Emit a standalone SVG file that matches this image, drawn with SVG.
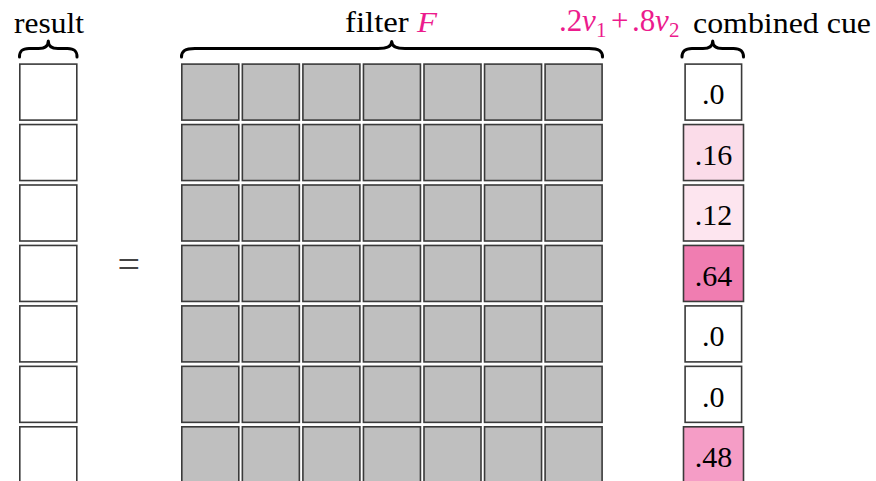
<svg xmlns="http://www.w3.org/2000/svg" width="876" height="481" viewBox="0 0 876 481">
<style>
.cell{stroke:#3a3a3a;stroke-width:1.6}
.w{fill:#ffffff}
.g{fill:#bfbfbf}
.lbl{font-size:29px;fill:#000}
.num{font-size:30px;fill:#000;text-anchor:middle}
.mag{fill:#ec1b8d}
.brace{fill:none;stroke:#000;stroke-width:3;stroke-linecap:round;stroke-linejoin:round}
</style>
<rect width="876" height="481" fill="#fff"/>

<g id="labels" font-family="Liberation Serif, Times New Roman, Times, serif">
<text class="lbl" x="14" y="32.5" textLength="70" lengthAdjust="spacingAndGlyphs">result</text>
<text class="lbl" x="345" y="32" textLength="92" lengthAdjust="spacingAndGlyphs">filter <tspan class="mag" font-style="italic">F</tspan></text>
<text class="mag" y="31" font-size="31"><tspan x="559">.2</tspan><tspan x="582" font-style="italic">v</tspan><tspan x="596" font-size="21" dy="6">1</tspan><tspan x="611" dy="-6">+</tspan><tspan x="632">.8</tspan><tspan x="655" font-style="italic">v</tspan><tspan x="669" font-size="21" dy="6">2</tspan></text>
<text class="lbl" x="693" y="32.5" textLength="178" lengthAdjust="spacingAndGlyphs">combined cue</text>
<text x="128.7" y="278" font-size="40" text-anchor="middle" fill="#444">=</text>
</g>

<g id="braces">
<path class="brace" d="M19.5,57 C19.5,51 22,48.5 29,48.5 L38.5,48.5 C45,48.5 48.3,46 48.3,41 C48.3,46 51.5,48.5 58,48.5 L67.5,48.5 C74.5,48.5 77,51 77,57"/>
<path class="brace" d="M181.5,57 C181.5,51 185,48.5 195,48.5 L378,48.5 C387,48.5 391.7,46 391.7,41.5 C391.7,46 396.5,48.5 405,48.5 L589,48.5 C599,48.5 602.5,51 602.5,57"/>
<path class="brace" d="M682,57 C682,51 685,48.5 692,48.5 L703,48.5 C709.5,48.5 712.7,46 712.7,41 C712.7,46 716,48.5 722.5,48.5 L733.5,48.5 C740.5,48.5 743.5,51 743.5,57"/>
</g>

<g id="result">
<rect class="cell w" x="19.8" y="64.1" width="57" height="56"/>
<rect class="cell w" x="19.8" y="124.55" width="57" height="56"/>
<rect class="cell w" x="19.8" y="185" width="57" height="56"/>
<rect class="cell w" x="19.8" y="245.45" width="57" height="56"/>
<rect class="cell w" x="19.8" y="305.9" width="57" height="56"/>
<rect class="cell w" x="19.8" y="366.35" width="57" height="56"/>
<rect class="cell w" x="19.8" y="426.8" width="57" height="56"/>
</g>

<g id="filter">
<g transform="translate(181.8,0)">
<rect class="cell g" x="0" y="64.1" width="57" height="56"/><rect class="cell g" x="0" y="124.55" width="57" height="56"/><rect class="cell g" x="0" y="185" width="57" height="56"/><rect class="cell g" x="0" y="245.45" width="57" height="56"/><rect class="cell g" x="0" y="305.9" width="57" height="56"/><rect class="cell g" x="0" y="366.35" width="57" height="56"/><rect class="cell g" x="0" y="426.8" width="57" height="56"/>
</g>
<g transform="translate(242.35,0)">
<rect class="cell g" x="0" y="64.1" width="57" height="56"/><rect class="cell g" x="0" y="124.55" width="57" height="56"/><rect class="cell g" x="0" y="185" width="57" height="56"/><rect class="cell g" x="0" y="245.45" width="57" height="56"/><rect class="cell g" x="0" y="305.9" width="57" height="56"/><rect class="cell g" x="0" y="366.35" width="57" height="56"/><rect class="cell g" x="0" y="426.8" width="57" height="56"/>
</g>
<g transform="translate(302.9,0)">
<rect class="cell g" x="0" y="64.1" width="57" height="56"/><rect class="cell g" x="0" y="124.55" width="57" height="56"/><rect class="cell g" x="0" y="185" width="57" height="56"/><rect class="cell g" x="0" y="245.45" width="57" height="56"/><rect class="cell g" x="0" y="305.9" width="57" height="56"/><rect class="cell g" x="0" y="366.35" width="57" height="56"/><rect class="cell g" x="0" y="426.8" width="57" height="56"/>
</g>
<g transform="translate(363.45,0)">
<rect class="cell g" x="0" y="64.1" width="57" height="56"/><rect class="cell g" x="0" y="124.55" width="57" height="56"/><rect class="cell g" x="0" y="185" width="57" height="56"/><rect class="cell g" x="0" y="245.45" width="57" height="56"/><rect class="cell g" x="0" y="305.9" width="57" height="56"/><rect class="cell g" x="0" y="366.35" width="57" height="56"/><rect class="cell g" x="0" y="426.8" width="57" height="56"/>
</g>
<g transform="translate(424,0)">
<rect class="cell g" x="0" y="64.1" width="57" height="56"/><rect class="cell g" x="0" y="124.55" width="57" height="56"/><rect class="cell g" x="0" y="185" width="57" height="56"/><rect class="cell g" x="0" y="245.45" width="57" height="56"/><rect class="cell g" x="0" y="305.9" width="57" height="56"/><rect class="cell g" x="0" y="366.35" width="57" height="56"/><rect class="cell g" x="0" y="426.8" width="57" height="56"/>
</g>
<g transform="translate(484.55,0)">
<rect class="cell g" x="0" y="64.1" width="57" height="56"/><rect class="cell g" x="0" y="124.55" width="57" height="56"/><rect class="cell g" x="0" y="185" width="57" height="56"/><rect class="cell g" x="0" y="245.45" width="57" height="56"/><rect class="cell g" x="0" y="305.9" width="57" height="56"/><rect class="cell g" x="0" y="366.35" width="57" height="56"/><rect class="cell g" x="0" y="426.8" width="57" height="56"/>
</g>
<g transform="translate(545.1,0)">
<rect class="cell g" x="0" y="64.1" width="57" height="56"/><rect class="cell g" x="0" y="124.55" width="57" height="56"/><rect class="cell g" x="0" y="185" width="57" height="56"/><rect class="cell g" x="0" y="245.45" width="57" height="56"/><rect class="cell g" x="0" y="305.9" width="57" height="56"/><rect class="cell g" x="0" y="366.35" width="57" height="56"/><rect class="cell g" x="0" y="426.8" width="57" height="56"/>
</g>
</g>

<g id="cue" font-family="Liberation Serif, Times New Roman, Times, serif">
<rect class="cell w" x="685.1" y="64.1" width="56.5" height="56"/>
<text class="num" x="713.3" y="104">.0</text>
<rect class="cell" fill="#fbdce9" x="683.5" y="124.55" width="60" height="56"/>
<text class="num" x="713.5" y="164.5">.16</text>
<rect class="cell" fill="#fde5ef" x="683.5" y="185" width="60" height="56"/>
<text class="num" x="713.5" y="225">.12</text>
<rect class="cell" fill="#f07db1" x="683.5" y="245.45" width="60" height="56"/>
<text class="num" x="713.5" y="285.5">.64</text>
<rect class="cell w" x="685.1" y="305.9" width="56.5" height="56"/>
<text class="num" x="713.3" y="346">.0</text>
<rect class="cell w" x="685.1" y="366.35" width="56.5" height="56"/>
<text class="num" x="713.3" y="406.5">.0</text>
<rect class="cell" fill="#f59dc6" x="683.5" y="426.8" width="60" height="56"/>
<text class="num" x="713.5" y="467">.48</text>
</g>
</svg>
